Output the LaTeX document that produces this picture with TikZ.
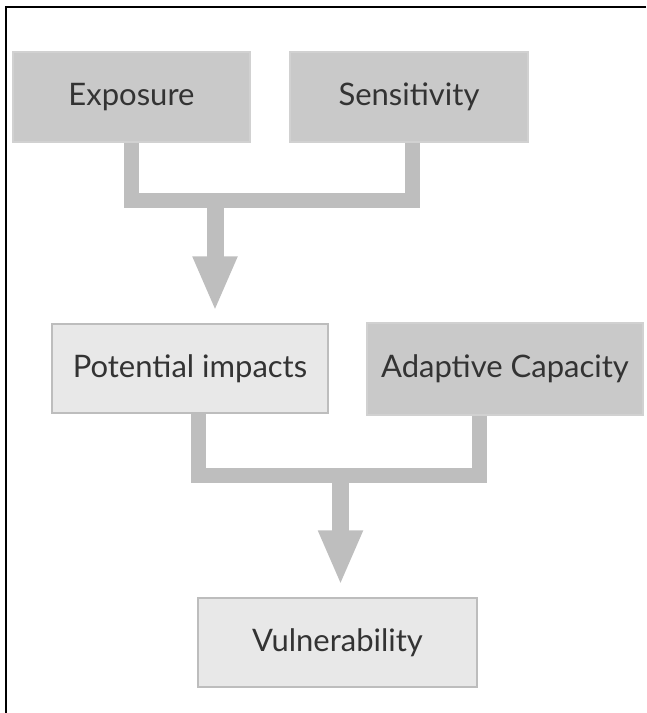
\documentclass[tikz,border=0pt]{standalone}
\usepackage{fontspec}
\setmainfont{Lato}
\usetikzlibrary{arrows.meta}
\definecolor{boxdark}{HTML}{C9C9C9}
\definecolor{boxlight}{HTML}{E8E8E8}
\definecolor{boxline}{HTML}{BDBDBD}
\definecolor{barcol}{HTML}{BEBEBE}
\definecolor{txt}{HTML}{333333}
\tikzset{
  box/.style={draw=boxline, line width=1.5pt, inner sep=0pt, text=txt,
    font=\fontsize{31}{36}\selectfont},
  darkbox/.style={box, fill=boxdark, draw=boxdark!85!white},
  lightbox/.style={box, fill=boxlight},
  bar/.style={draw=barcol, line width=15pt, line cap=butt, line join=miter},
  flow/.style={draw=barcol, line width=17pt,
    -{Triangle[width=41pt,length=55pt]}, shorten >=12pt},
}
\begin{document}
\begin{tikzpicture}[x=1pt,y=-1pt]
  \useasboundingbox (0,0) rectangle (646,713);
  % frame: top and left rules only
  \draw[line width=2pt] (646,7) -- (6,7) -- (6,713);

  % boxes
  \node[darkbox, minimum width=237pt, minimum height=90pt] (exp) at (131.5,97) {Exposure};
  \node[darkbox, minimum width=238pt, minimum height=90pt] (sens) at (409,97) {Sensitivity};
  \node[lightbox, minimum width=276pt, minimum height=89pt] (pot) at (190,368.5) {Potential impacts};
  \node[darkbox, minimum width=276pt, minimum height=92pt] (adap) at (505,369) {Adaptive Capacity};
  \node[lightbox, minimum width=279pt, minimum height=89pt] (vul) at (337.5,642.5) {Vulnerability};

  % junction points of the merging bars
  \coordinate (j1) at (215,200.5);
  \coordinate (j2) at (340.5,475.5);

  % exposure + sensitivity -> potential impacts
  \draw[bar] (exp.south) |- (j1) -| ([xshift=3pt]sens.south);
  \draw[flow] (j1) -- (j1 |- pot.north);

  % potential impacts + adaptive capacity -> vulnerability
  \draw[bar] ([xshift=8.5pt]pot.south) |- (j2) -| ([xshift=-26pt]adap.south);
  \draw[flow] (j2) -- (j2 |- vul.north);
\end{tikzpicture}
\end{document}
